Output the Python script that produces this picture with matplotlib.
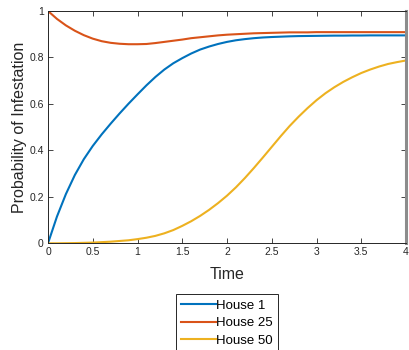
import numpy as np
import matplotlib
matplotlib.use("Agg")
import matplotlib.pyplot as plt

plt.rcParams["font.family"] = ["Liberation Sans", "DejaVu Sans"]

time = np.round(np.arange(0, 4.01, 0.1), 2)

house_1 = [0.000, 0.115, 0.212, 0.294, 0.362, 0.419, 0.469, 0.515, 0.559, 0.601,
           0.641, 0.680, 0.716, 0.748, 0.775, 0.797, 0.817, 0.834, 0.847, 0.858,
           0.867, 0.874, 0.879, 0.883, 0.886, 0.888, 0.8895, 0.891, 0.892, 0.8925,
           0.893, 0.8935, 0.894, 0.894, 0.8945, 0.8945, 0.895, 0.895, 0.895, 0.895,
           0.895]
house_25 = [1.000, 0.966, 0.938, 0.915, 0.896, 0.881, 0.870, 0.863, 0.859, 0.857,
            0.857, 0.858, 0.862, 0.867, 0.872, 0.877, 0.883, 0.887, 0.891, 0.895,
            0.898, 0.900, 0.902, 0.904, 0.905, 0.906, 0.907, 0.908, 0.908, 0.908,
            0.909, 0.909, 0.909, 0.909, 0.909, 0.909, 0.909, 0.909, 0.909, 0.909,
            0.909]
house_50 = [0.000, 0.000, 0.0005, 0.001, 0.002, 0.003, 0.005, 0.007, 0.010, 0.013,
            0.018, 0.024, 0.032, 0.043, 0.057, 0.075, 0.095, 0.118, 0.144, 0.173,
            0.205, 0.241, 0.281, 0.324, 0.369, 0.415, 0.461, 0.505, 0.545, 0.582,
            0.616, 0.646, 0.672, 0.695, 0.715, 0.733, 0.748, 0.761, 0.772, 0.780,
            0.787]

series = [("House 1", house_1, "#0072BD"),
          ("House 25", house_25, "#D95319"),
          ("House 50", house_50, "#EDB120")]

x_ticks = [0, 0.5, 1, 1.5, 2, 2.5, 3, 3.5, 4]
x_labels = ["0", "0.5", "1", "1.5", "2", "2.5", "3", "3.5", "4"]
y_ticks = [0, 0.2, 0.4, 0.6, 0.8, 1]
y_labels = ["0", "0.2", "0.4", "0.6", "0.8", "1"]

W, H = 409, 350
fig = plt.figure(figsize=(W / 100, H / 100), dpi=100)
ax = fig.add_axes([48 / W, 1 - 243.3 / H, (406 - 48) / W, (243.3 - 11) / H])

for name, vals, col in series:
    ax.plot(time, vals, color=col, lw=1.5, label=name)

ax.set_xlim(0, 4)
ax.set_ylim(0, 1)
ax.set_xticks(x_ticks)
ax.set_xticklabels(x_labels)
ax.set_yticks(y_ticks)
ax.set_yticklabels(y_labels)

dark = "#262626"
ax.tick_params(direction="in", length=3.5, width=0.6, colors=dark,
               labelsize=7.5, top=True, right=True, pad=3)
for s in ("left", "bottom", "top"):
    ax.spines[s].set_color(dark)
    ax.spines[s].set_linewidth(0.7)
ax.spines["right"].set_color("#8c8c8c")
ax.spines["right"].set_linewidth(2.2)

ax.set_xlabel("Time", fontsize=11.5, color=dark, labelpad=7)
ax.set_ylabel("Probability of Infestation", fontsize=11.5, color=dark, labelpad=2)

leg = fig.legend(loc="upper center", bbox_to_anchor=(227 / W, 1 - 294.3 / H),
                 fontsize=9.5, frameon=True, fancybox=False, framealpha=1,
                 edgecolor=dark, handlelength=2.65, handletextpad=0.05,
                 labelspacing=0.4, borderpad=0.4, borderaxespad=0)
leg.get_frame().set_linewidth(0.7)

fig.savefig("out.png", dpi=100)
